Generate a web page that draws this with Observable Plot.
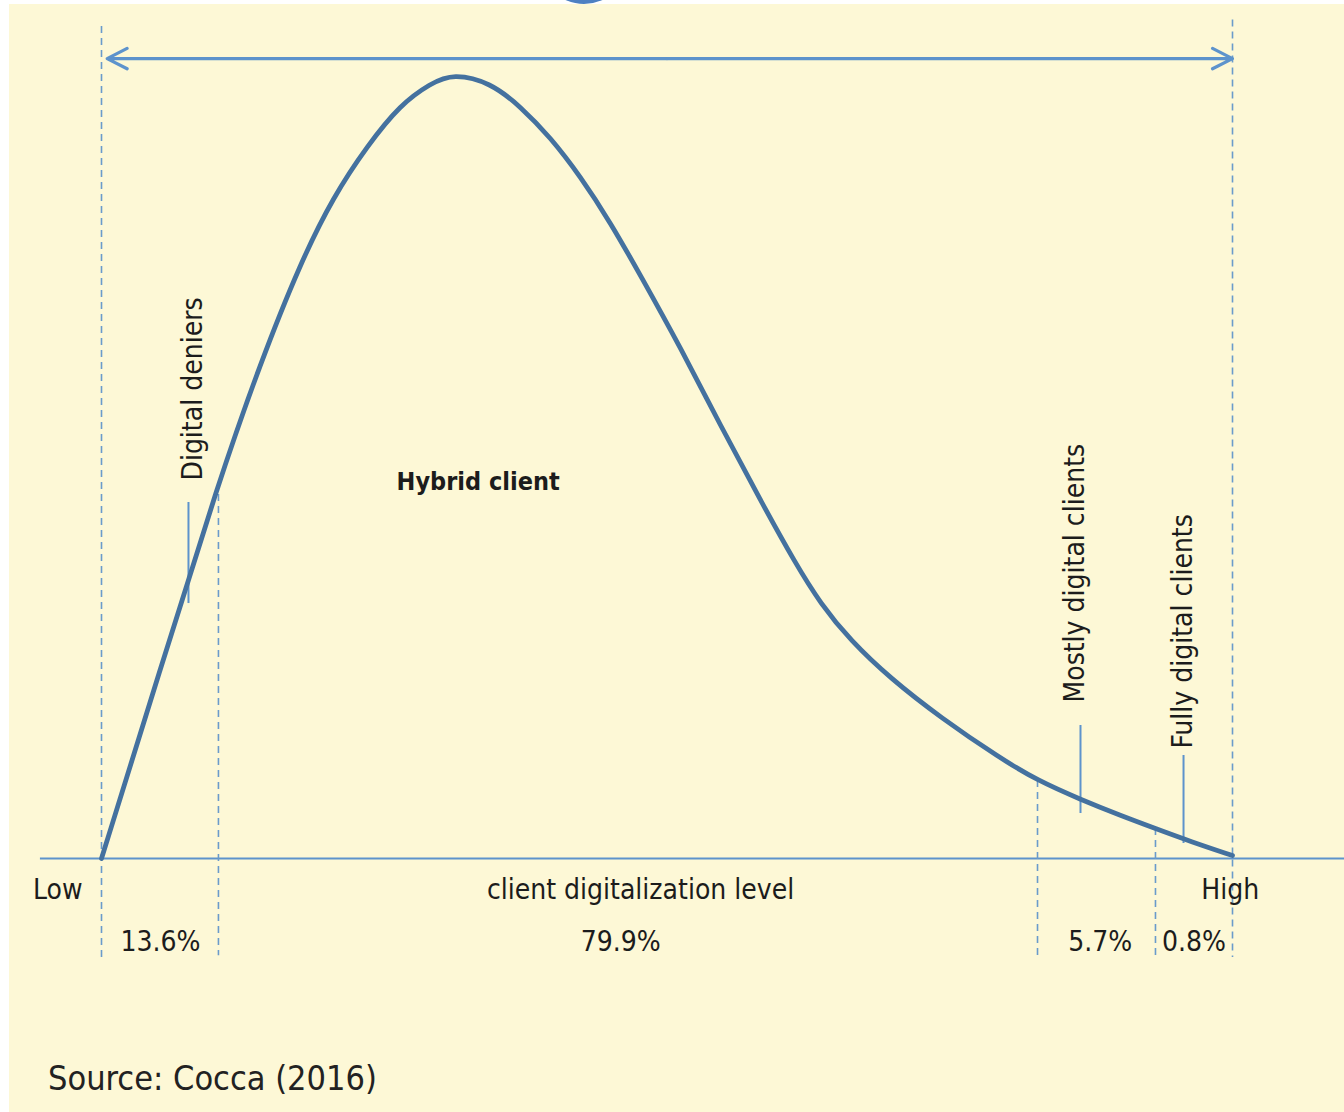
<!DOCTYPE html>
<html>
<head>
<meta charset="utf-8">
<script src="https://cdn.jsdelivr.net/npm/d3@7"></script>
<script src="https://cdn.jsdelivr.net/npm/@observablehq/plot@0.6"></script>
<style>
  html, body { margin: 0; padding: 0; background: #ffffff; width: 1344px; height: 1112px; overflow: hidden; position: relative; }
  #dot { position: absolute; left: 539px; top: -86px; width: 90px; height: 90px; border-radius: 50%; background: #4d80c2; }
  #panel { position: absolute; left: 9px; top: 4px; width: 1335px; height: 1108px; background: #fdf8d6; }
  #chart svg { display: block; }
  #source { padding-left: 39px; height: 68px; line-height: 68px; font-size: 34px; color: #222;
            font-family: "Liberation Sans Narrow", "DejaVu Sans Condensed", "Roboto Condensed", Roboto, sans-serif; }
</style>
</head>
<body>
<div id="dot"></div>
<div id="panel">
  <div id="chart"></div>
  <div id="source">Source: Cocca (2016)</div>
</div>
<script>
// ---- data (x: client digitalization level, Low = 0 .. High = 100; y: relative share of clients, peak = 100)
const curveLevel = [0, 5.22, 10.34, 14.06, 17.60, 20.51, 23.52, 26.44, 29.09, 31.12, 34.39, 37.05, 39.70, 42.35, 45.00, 47.66, 51.19, 54.73, 58.27, 61.36, 63.57, 66.22, 69.76, 74.18, 79.49, 82.76, 86.56, 90.10, 93.19, 96.29, 100];
const curveShare = [0, 24.20, 47.90, 63.18, 75.92, 84.33, 90.83, 96.06, 98.73, 100, 98.85, 95.80, 91.85, 86.88, 81.02, 74.27, 65.10, 55.16, 45.61, 37.58, 32.48, 27.77, 22.93, 17.96, 12.74, 9.94, 7.52, 5.48, 3.82, 2.17, 0.38];

const boundaryLevel  = [0, 10.34, 82.76, 93.19, 100];
const boundaryTop    = [106.0, 47.90, 9.94, 3.82, 106.8];
const boundaryBottom = [-13.2, -12.4, -12.6, -12.6, -12.6];

const segmentShares = ["13.6%", "79.9%", "5.7%", "0.8%"];
const segmentLevel  = [5.22, 45.9, 88.3, 96.6];

const groupNames      = ["Digital deniers", "Mostly digital clients", "Fully digital clients"];
const groupLevel      = [8.05, 86.1, 95.6];
const groupStart      = [48.15, 19.87, 14.0];
const groupTickLevel  = [7.69, 86.56, 95.67];
const groupTickTop    = [45.35, 16.94, 13.12];
const groupTickBottom = [32.48, 5.73, 1.91];

const lowLabel = "Low", lowLevel = -1.68;
const axisTitle = "client digitalization level", axisTitleLevel = 47.66;
const highLabel = "High", highLevel = 99.8;

const rangeArrowFrom = 50, rangeArrowTo = [0.5, 100], rangeArrowY = 101.9;
const mainGroup = "Hybrid client", mainGroupLevel = 33.3, mainGroupShare = 47.9;

// ---- tables built from arrays
const curve  = curveLevel.map((x, i) => ({x, y: curveShare[i]}));
const bounds = boundaryLevel.map((x, i) => ({x, y1: boundaryTop[i], y2: boundaryBottom[i]}));
const shares = segmentShares.map((t, i) => ({t, x: segmentLevel[i]}));
const groups = groupNames.map((t, i) => ({t, x: groupLevel[i], y: groupStart[i], tx: groupTickLevel[i], ty1: groupTickTop[i], ty2: groupTickBottom[i]}));
const centered = [{t: axisTitle, x: axisTitleLevel}, {t: highLabel, x: highLevel}];
const arrows = rangeArrowTo.map(x2 => ({x1: rangeArrowFrom, x2, y: rangeArrowY}));

const font = '"Liberation Sans Narrow", "DejaVu Sans Condensed", "Roboto Condensed", Roboto, sans-serif';
const ink = "#1c1c1c";
const curveColor = "#44719f";
const lineColor = "#5d93cc";
const dashColor = "#6a9bcb";
const labelY = -4.08, shareY = -10.7;

const chart = Plot.plot({
  width: 1335,
  height: 1040,
  margin: 0,
  style: {background: "transparent", fontFamily: font},
  x: {domain: [0, 100], range: [92, 1223], axis: null},
  y: {domain: [0, 100], range: [854, 69], axis: null},
  marks: [
    Plot.ruleY([0], {x1: -5.4, x2: 110, stroke: lineColor, strokeWidth: 2}),
    Plot.ruleX(bounds, {x: "x", y1: "y1", y2: "y2", stroke: dashColor, strokeWidth: 1.6, strokeDasharray: "7,5"}),
    Plot.ruleX(groups, {x: "tx", y1: "ty1", y2: "ty2", stroke: lineColor, strokeWidth: 2}),
    Plot.arrow(arrows, {x1: "x1", x2: "x2", y1: "y", y2: "y", stroke: lineColor, strokeWidth: 3.2, headLength: 10.5, headAngle: 54}),
    Plot.line(curve, {x: "x", y: "y", curve: "basis", stroke: curveColor, strokeWidth: 4.8}),
    Plot.text(groups, {x: "x", y: "y", text: "t", rotate: -90, textAnchor: "start", fontSize: 28, fill: ink, fontFamily: font}),
    Plot.text([mainGroup], {x: mainGroupLevel, y: mainGroupShare, text: d => d, fontSize: 25, fontWeight: "bold", fill: ink, fontFamily: font}),
    Plot.text([lowLabel], {x: lowLevel, y: labelY, text: d => d, textAnchor: "end", fontSize: 28, fill: ink, fontFamily: font}),
    Plot.text(centered, {x: "x", y: labelY, text: "t", fontSize: 28, fill: ink, fontFamily: font}),
    Plot.text(shares, {x: "x", y: shareY, text: "t", fontSize: 28, fill: ink, fontFamily: font})
  ]
});
document.getElementById("chart").appendChild(chart);
</script>
</body>
</html>
